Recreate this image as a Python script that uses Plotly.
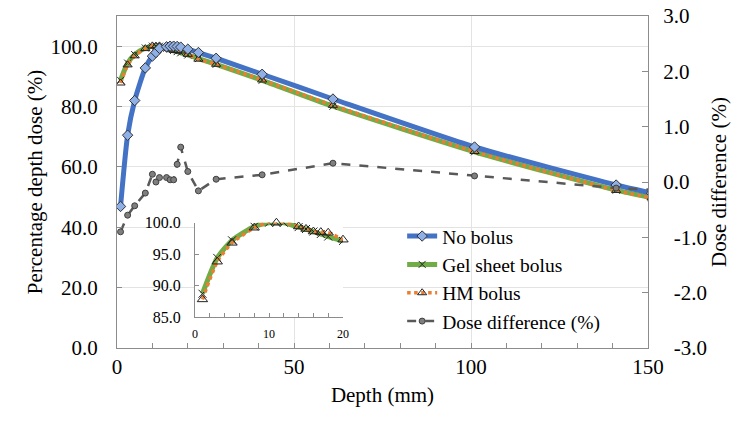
import plotly.graph_objects as go

# ---- data ----
depth = [1, 3, 5, 8, 10, 11, 12, 14, 15, 16, 17, 18, 20, 23, 28, 41, 61, 101, 141, 151]
no_bolus = [46.9, 70.5, 82.0, 92.8, 96.7, 97.9, 99.3, 99.8, 100.0, 100.0, 99.9, 99.7, 99.0,
            97.9, 96.0, 90.7, 82.5, 66.6, 54.0, 51.3]
gel_bolus = [88.7, 94.4, 97.2, 99.4, 100.0, 100.0, 100.0, 99.3, 99.0, 98.6, 98.2, 97.8, 97.1,
             95.9, 94.0, 88.7, 80.1, 65.0, 52.3, 49.8]
hm_bolus = [87.8, 93.8, 96.8, 99.2, 100.1, 100.0, 100.1, 99.4, 99.0, 98.6, 98.5, 98.4, 97.3,
            95.7, 94.0, 88.8, 80.4, 65.1, 52.2, 49.7]
dose_diff = [-0.90, -0.60, -0.43, -0.20, 0.14, 0.00, 0.08, 0.08, 0.04, 0.04, 0.32, 0.63, 0.19,
             -0.16, 0.05, 0.13, 0.34, 0.11, -0.11, -0.14]
inset_n = 13  # points up to 20 mm shown in the inset

left_ticks = [0, 20, 40, 60, 80, 100]
left_ticktext = ["0.0", "20.0", "40.0", "60.0", "80.0", "100.0"]
right_ticks = [-3, -2, -1, 0, 1, 2, 3]
right_ticktext = ["\u00a0\u00a0-3.0", "\u00a0\u00a0-2.0", "\u00a0\u00a0-1.0", "0.0", "1.0", "2.0", "3.0"]
inset_yticks = [85, 90, 95, 100]
inset_yticktext = ["85.0", "90.0", "95.0", "100.0"]

FONT = "Liberation Serif"
BLUE = "#4472C4"
GREEN = "#70AD47"
ORANGE = "#ED7D31"
GRAY = "#595959"
FRAME = "#8c8c8c"
GRID = "#e3e3e3"


def f(size):
    return dict(family=FONT, size=size, color="black")


fig = go.Figure()

fig.add_trace(go.Scatter(
    x=depth, y=gel_bolus, name="Gel sheet bolus", mode="lines+markers", legendrank=2,
    line=dict(color=GREEN, width=5, shape="spline", smoothing=0.6),
    marker=dict(symbol="x-thin", size=7, line=dict(color="#222222", width=1))))
fig.add_trace(go.Scatter(
    x=depth, y=hm_bolus, name="HM bolus", mode="lines+markers", legendrank=3,
    line=dict(color=ORANGE, width=3.5, dash="dot", shape="spline", smoothing=0.6),
    marker=dict(symbol="triangle-up-open", size=8, color="#222222", line=dict(width=1))))
fig.add_trace(go.Scatter(
    x=depth, y=no_bolus, name="No bolus", mode="lines+markers", legendrank=1,
    line=dict(color=BLUE, width=5, shape="spline", smoothing=0.6),
    marker=dict(symbol="diamond", size=8, color="#8fb0e6", line=dict(color="#333333", width=1))))
fig.add_trace(go.Scatter(
    x=depth, y=dose_diff, name="Dose difference (%)", mode="lines+markers", legendrank=4,
    yaxis="y2",
    line=dict(color=GRAY, width=2.5, dash="dash"),
    marker=dict(symbol="circle", size=6, color="#7f7f7f", line=dict(color="#404040", width=1))))

# inset
fig.add_trace(go.Scatter(
    x=depth[:inset_n], y=gel_bolus[:inset_n], xaxis="x3", yaxis="y3", showlegend=False,
    mode="lines+markers",
    line=dict(color=GREEN, width=5, shape="spline", smoothing=0.6),
    marker=dict(symbol="x-thin", size=8, line=dict(color="#222222", width=1))))
fig.add_trace(go.Scatter(
    x=depth[:inset_n], y=hm_bolus[:inset_n], xaxis="x3", yaxis="y3", showlegend=False,
    mode="lines+markers", cliponaxis=False,
    line=dict(color=ORANGE, width=3.5, dash="dot", shape="spline", smoothing=0.6),
    marker=dict(symbol="triangle-up-open", size=9, color="#222222", line=dict(width=1))))

fig.update_layout(
    template="none",
    width=750, height=422,
    margin=dict(l=117, r=102, t=16, b=74),
    paper_bgcolor="white", plot_bgcolor="white",
    font=f(21),
    showlegend=True,
    legend=dict(x=0.537, y=0.395, xanchor="left", yanchor="top",
                bgcolor="rgba(0,0,0,0)", font=f(19.5), borderwidth=0,
                tracegroupgap=0),
    xaxis=dict(
        domain=[0, 1], range=[0, 150], tickvals=[0, 50, 100, 150],
        showgrid=True, gridcolor=GRID, gridwidth=1,
        showline=True, linecolor=FRAME, linewidth=1, mirror=True,
        ticks="inside", ticklen=5, tickcolor=FRAME, tickfont=f(21),
        minor=dict(dtick=10, ticks="inside", ticklen=5, tickcolor=FRAME, showgrid=False),
        zeroline=False, ticklabelstandoff=0,
        title=dict(text="Depth (mm)", font=f(21), standoff=9),
    ),
    yaxis=dict(
        range=[0, 110], tickvals=left_ticks, ticktext=left_ticktext,
        showgrid=True, gridcolor=GRID, gridwidth=1,
        showline=True, linecolor=FRAME, linewidth=1, tickfont=f(21),
        ticks="inside", ticklen=5, tickcolor=FRAME, zeroline=False,
        ticklabelstandoff=14,
        title=dict(text="Percentage depth dose (%)", font=f(21), standoff=2),
    ),
    yaxis2=dict(
        overlaying="y", side="right", range=[-3, 3],
        tickvals=right_ticks, ticktext=right_ticktext, tickfont=f(21),
        showgrid=False, showline=True, linecolor=FRAME, linewidth=1,
        ticks="inside", ticklen=6, tickcolor=FRAME, zeroline=False,
        ticklabelstandoff=10,
        title=dict(text="Dose difference (%)", font=f(21), standoff=0),
    ),
    xaxis3=dict(
        domain=[0.147, 0.4256], anchor="y3", range=[0, 20], tickvals=[0, 10, 20],
        showgrid=False, showline=True, linecolor=FRAME, linewidth=1,
        ticks="inside", ticklen=4, tickcolor=FRAME,
        minor=dict(dtick=2, ticks="inside", ticklen=4, tickcolor=FRAME, showgrid=False),
        tickfont=f(12), zeroline=False, ticklabelstandoff=6,
    ),
    yaxis3=dict(
        domain=[0.0934, 0.3774], anchor="x3", range=[85, 100],
        tickvals=inset_yticks, ticktext=inset_yticktext,
        showgrid=False, showline=True, linecolor=FRAME, linewidth=1,
        ticks="inside", ticklen=4, tickcolor=FRAME,
        tickfont=f(16), zeroline=False, ticklabelstandoff=10,
    ),
)

fig.write_html("out.html")
